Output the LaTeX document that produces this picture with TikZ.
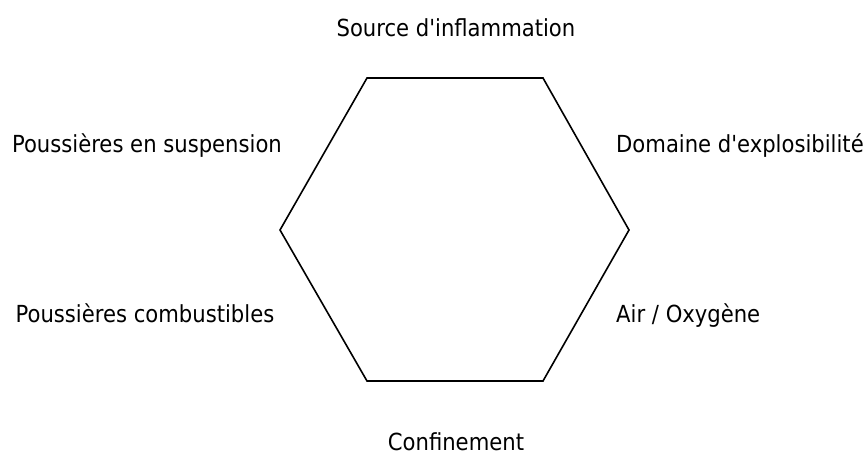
\documentclass[tikz,border=0pt]{standalone}
\usepackage{fontspec}
\setmainfont{DejaVu Sans Condensed}
\begin{document}
\begin{tikzpicture}[x=1pt,y=-1pt,
  lbl/.style={font=\fontsize{23.5}{28}\selectfont, inner sep=0pt, anchor=base},
  lblw/.style={lbl, anchor=base west},
  hexline/.style={draw=black, line width=1.6pt, line join=miter}]
\useasboundingbox (0,0) rectangle (865,455);
% six-sided outline
\coordinate (tl) at (367,78);
\coordinate (tr) at (543,78);
\coordinate (r) at (629,230);
\coordinate (br) at (543,381);
\coordinate (bl) at (367,381);
\coordinate (l) at (280,230);
\draw[hexline] (tl) -- (tr) -- (r) -- (br) -- (bl) -- (l) -- cycle;
% labels around it
\node[lbl] (src) at (456,36.5) {Source d\textquotesingle inflammation};
\node[lblw] (dom) at (616,152) {Domaine d\textquotesingle explosibilité};
\node[lblw] (air) at (616,322.5) {Air / Oxygène};
\node[lbl] (conf) at (456,450.5) {Confinement};
\node[lbl] (comb) at (145,322.5) {Poussières combustibles};
\node[lbl] (susp) at (147,152) {Poussières en suspension};
\end{tikzpicture}
\end{document}
